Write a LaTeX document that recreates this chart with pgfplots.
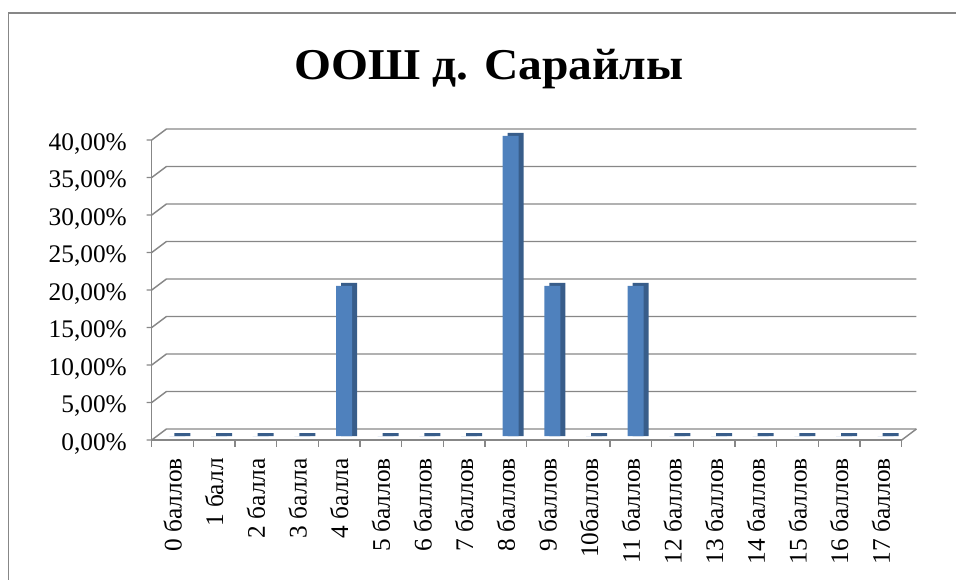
\documentclass[border=0pt]{standalone}
\usepackage{pgfplots}
\pgfplotsset{compat=1.18}
\usepackage{fontspec}
\setmainfont{Liberation Serif}
\definecolor{barfront}{HTML}{4F81BD}
\definecolor{barside}{HTML}{385D8A}
\definecolor{linegray}{HTML}{878787}

\begin{document}
\begin{tikzpicture}
\useasboundingbox (0,0) rectangle (717pt,-435pt);
\clip (0,0) rectangle (717pt,-435pt);
\draw[linegray, line width=1pt] (6.2pt,-9.75pt) rectangle (730pt,-450pt);
\node[font=\bfseries\fontsize{33}{38}\selectfont, anchor=base] at (366.7pt,-59.5pt) {\scalebox{1.08}[1]{ООШ д. Сарайлы}};
\begin{axis}[
    at={(113.8pt,-330pt)}, anchor=south west,
    scale only axis, width=562.5pt, height=225pt,
    xmin=-0.5, xmax=17.5, ymin=0, ymax=40,
    axis lines*=left,
    axis line style={linegray, line width=1.1pt},
    clip=false,
    major tick length=0pt,
    xtick={0,...,17},
    xticklabels={0 баллов, 1 балл, 2 балла, 3 балла, 4 балла, 5 баллов, 6 баллов, 7 баллов, 8 баллов, 9 баллов, 10баллов, 11 баллов, 12 баллов, 13 баллов, 14 баллов, 15 баллов, 16 баллов, 17 баллов},
    x tick label style={rotate=90, anchor=east, inner sep=0pt},
    xticklabel shift=13.5pt,
    ytick={0,5,...,40},
    yticklabels={{0,00\%},{5,00\%},{10,00\%},{15,00\%},{20,00\%},{25,00\%},{30,00\%},{35,00\%},{40,00\%}},
    y tick label style={anchor=east, inner sep=0pt, yshift=-3pt},
    yticklabel shift=18.5pt,
    tick label style={font=\fontsize{19}{22}\selectfont},
]
% back wall grid with the short ticks and the slanted connectors
\pgfplotsinvokeforeach{0,5,...,40}{
    \draw[linegray, line width=1.1pt] (axis cs:-0.5,#1) ++(-3.75pt,0pt) -- ++(3.75pt,0pt) -- ++(11pt,8.25pt) -- ([shift={(11pt,8.25pt)}]axis cs:17.5,#1);
}
\draw[linegray, line width=1.1pt] (axis cs:17.5,0) -- ++(11pt,8.25pt);
\pgfplotsinvokeforeach{-0.5,0.5,...,17.5}{
    \draw[linegray, line width=1.1pt] (axis cs:#1,0) -- ++(0pt,-5.25pt);
}
% side and top of the columns (a little higher, so the empty ones show a flat top)
\addplot[ybar, bar width=12pt, bar shift=7.35pt, fill=barside, draw=none, yshift=3pt,
    y filter/.expression={y+0.4}] coordinates {
    (0,0) (1,0) (2,0) (3,0) (4,20) (5,0) (6,0) (7,0) (8,40) (9,20) (10,0) (11,20) (12,0) (13,0) (14,0) (15,0) (16,0) (17,0)
};
% front of the columns
\addplot[ybar, bar width=12pt, bar shift=3.6pt, fill=barfront, draw=none, yshift=3pt] coordinates {
    (0,0) (1,0) (2,0) (3,0) (4,20) (5,0) (6,0) (7,0) (8,40) (9,20) (10,0) (11,20) (12,0) (13,0) (14,0) (15,0) (16,0) (17,0)
};
\end{axis}
\end{tikzpicture}
\end{document}
